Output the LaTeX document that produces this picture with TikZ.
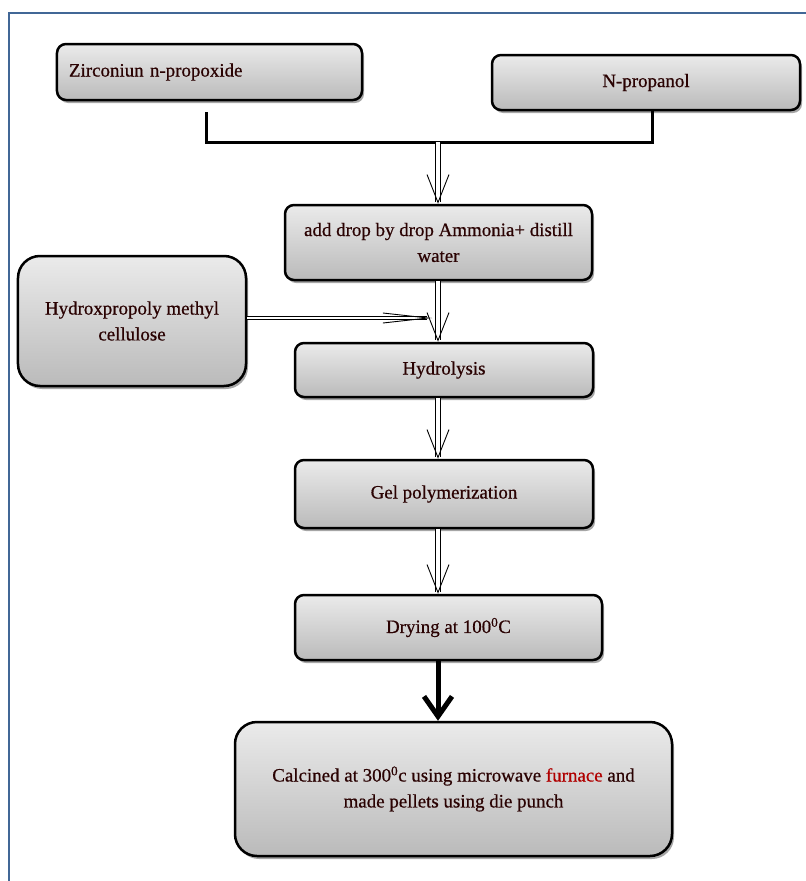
\documentclass[tikz,border=0pt]{standalone}
\usepackage{fontspec}
\setmainfont[FakeBold=0.6]{Liberation Serif}
\usetikzlibrary{arrows.meta,shadows}
\definecolor{txt}{HTML}{2A0202}
\definecolor{furn}{HTML}{B00000}
\definecolor{frameblue}{HTML}{416796}
\newcommand\boxfont{\fontsize{19}{26}\selectfont}
\tikzset{
  box/.style={draw=black, line width=2.5bp, rounded corners=9bp,
    top color=black!8, bottom color=black!27,
    drop shadow={shadow xshift=2bp, shadow yshift=-3bp, opacity=0.35, fill=black},
    font=\boxfont, text=txt, align=center, inner sep=0pt},
  bigbox/.style={box, rounded corners=22bp},
  dbl/.style={draw=black, double=white, double distance=3.5bp, line width=0.9bp,
    -{Straight Barb[length=28bp,width=22bp]}},
  dblh/.style={draw=black, double=white, double distance=2.5bp, line width=0.9bp,
    -{Straight Barb[length=45bp,width=10bp]}},
  thick arrow/.style={line width=5bp, -{Straight Barb[length=20bp,width=28bp]}},
  bracket/.style={line width=3bp},
  frameline/.style={draw=frameblue, line width=2bp},
}
\begin{document}
\begin{tikzpicture}[x=1bp, y=-1bp]
\useasboundingbox (0,0) rectangle (806,881);
\draw[frameline] (9,881) -- (9,13) -- (806,13);

\node[box, minimum width=305bp, minimum height=56bp, text width=281bp, align=left] (zr) at (209.5,72) {Zirconiun n-propoxide};
\node[box, minimum width=308bp, minimum height=55bp] (np) at (646,82.5) {N-propanol};
\node[box, minimum width=307bp, minimum height=75bp] (add) at (438.5,242.5) {add drop by drop Ammonia+ distill\\water};
\node[bigbox, minimum width=228bp, minimum height=130bp] (hpmc) at (132,321) {Hydroxpropoly methyl\\cellulose};
\node[box, minimum width=298bp, minimum height=54bp] (hyd) at (444,370) {Hydrolysis};
\node[box, minimum width=298bp, minimum height=68bp] (gel) at (444,494) {Gel polymerization};
\node[box, minimum width=307bp, minimum height=65bp] (dry) at (448.5,627.5) {Drying at 100\textsuperscript{0}C};
\node[bigbox, minimum width=437bp, minimum height=134bp] (cal) at (453.5,789) {Calcined at 300\textsuperscript{0}c using microwave \textcolor{furn}{furnace} and\\made pellets using die punch};

\coordinate (axis) at (438,0);
\coordinate (bl) at (206,0);
\coordinate (br) at (652,0);
\coordinate (join) at (438,142);
\coordinate (hin) at (432,318);

\draw[bracket] (zr.south -| bl) ++(0,11) |- (join) -| (np.south -| br);
\draw[dbl] (join) -- (add.north -| axis);
\draw[dbl] (add.south -| axis) -- (hyd.north -| axis);
\draw[dblh] (hpmc.east |- hin) -- (hin);
\draw[dbl] (hyd.south -| axis) -- (gel.north -| axis);
\draw[dbl] (gel.south -| axis) -- (dry.north -| axis);
\draw[thick arrow] (dry.south -| axis) -- (cal.north -| axis);
\end{tikzpicture}
\end{document}
